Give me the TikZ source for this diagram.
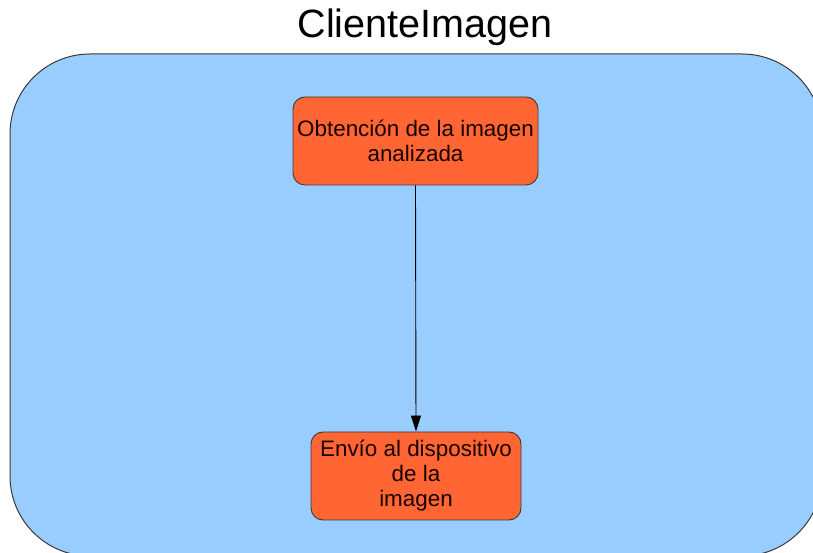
\documentclass[tikz,border=0pt]{standalone}
\usepackage{fontspec}
\setmainfont{Liberation Sans}
\usetikzlibrary{arrows.meta}
\definecolor{panelblue}{HTML}{99CCFF}
\definecolor{steporange}{HTML}{FF6633}
\definecolor{edgegray}{HTML}{3A3A3A}
\tikzset{
  panel/.style={draw=edgegray, line width=1pt, fill=panelblue, rounded corners=80pt},
  stepbox/.style={draw=edgegray, line width=0.9pt, fill=steporange, rounded corners=12pt,
    align=center, inner sep=2pt, text=black!90!red,
    font=\fontsize{22.4}{25}\selectfont},
  flow/.style={draw=black, line width=0.9pt, -{Triangle[width=10pt,length=16pt]}},
  title/.style={font=\fontsize{39.5}{44}\selectfont, text=black}
}
\begin{document}
\begin{tikzpicture}[x=1pt,y=1pt]
  \useasboundingbox (0,0) rectangle (813,553);
  \clip (0,0) rectangle (813,553);
  \fill[white] (0,0) rectangle (813,553);
  % enclosing panel
  \draw[panel] (10,499) rectangle (822,-3);
  % title
  \node[title] (caption) at (425,526) {ClienteImagen};
  % steps
  \node[stepbox, minimum width=245pt, minimum height=88pt] (fetch) at (415.5,412)
    {Obtención de la imagen\\analizada};
  \node[stepbox, minimum width=210pt, minimum height=88pt] (send) at (416,77)
    {Envío al dispositivo\\de la\\imagen};
  % connector
  \draw[flow] (fetch.south) -- (send.north);
\end{tikzpicture}
\end{document}
